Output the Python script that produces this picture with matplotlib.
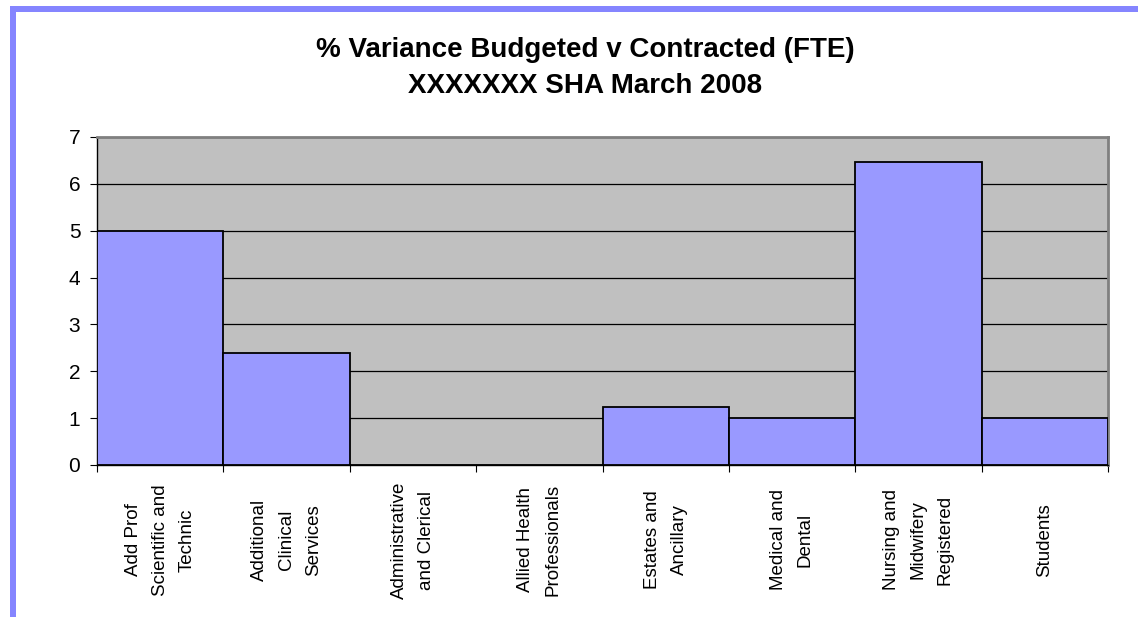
import matplotlib.pyplot as plt
from matplotlib.patches import Rectangle
import numpy as np

categories = [
    "Add Prof\nScientific and\nTechnic",
    "Additional\nClinical\nServices",
    "Administrative\nand Clerical",
    "Allied Health\nProfessionals",
    "Estates and\nAncillary",
    "Medical and\nDental",
    "Nursing and\nMidwifery\nRegistered",
    "Students",
]
variance = [5.0, 2.4, 0.0, 0.0, 1.24, 1.0, 6.47, 1.0]
y_ticks = [0, 1, 2, 3, 4, 5, 6, 7]

plt.rcParams["font.family"] = ["Liberation Sans", "DejaVu Sans"]

fig = plt.figure(figsize=(11.38, 6.17), dpi=100)
W, H = 1138, 617

# blue frame on the left and top edge
fig.patches.append(Rectangle((10 / W, 0), 6 / W, 1 - 6 / H, transform=fig.transFigure,
                             facecolor="#8585FF", edgecolor="none"))
fig.patches.append(Rectangle((10 / W, 1 - 12 / H), 1, 6 / H, transform=fig.transFigure,
                             facecolor="#8585FF", edgecolor="none"))

ax = fig.add_axes([97 / W, (H - 465) / H, (1108 - 97) / W, (465 - 137) / H])
ax.set_facecolor("#C0C0C0")

x = np.arange(len(categories))
ax.bar(x, variance, width=1.0, color="#9999FF", edgecolor="black", linewidth=1.3, zorder=3)

ax.set_xlim(-0.5, len(categories) - 0.5)
ax.set_ylim(0, 7)
ax.set_yticks(y_ticks)
ax.yaxis.grid(True, color="black", linewidth=0.9, zorder=1)
ax.set_axisbelow(True)

# ticks between categories, labels at centres
ax.set_xticks(np.arange(-0.5, len(categories), 1.0))
ax.set_xticklabels([])
ax.set_xticks(x, minor=True)
ax.set_xticklabels(categories, minor=True, rotation=90, ha="center", va="center",
                   multialignment="center", fontsize=13.5, linespacing=1.75)
ax.tick_params(axis="x", which="minor", length=0, pad=54)
ax.tick_params(axis="x", which="major", length=5, color="black")
ax.tick_params(axis="y", length=5, labelsize=15, pad=7)

for side in ["left", "bottom"]:
    ax.spines[side].set_color("black")
    ax.spines[side].set_linewidth(1.0)
for side in ["top", "right"]:
    ax.spines[side].set_color("#808080")
    ax.spines[side].set_linewidth(2.0)

fig.text(585 / W, 1 - 57 / H, "% Variance Budgeted v Contracted (FTE)",
         ha="center", va="baseline", fontsize=20, fontweight="bold")
fig.text(585 / W, 1 - 93 / H, "XXXXXXX SHA March 2008",
         ha="center", va="baseline", fontsize=20, fontweight="bold")

fig.savefig("out.png", dpi=100)
